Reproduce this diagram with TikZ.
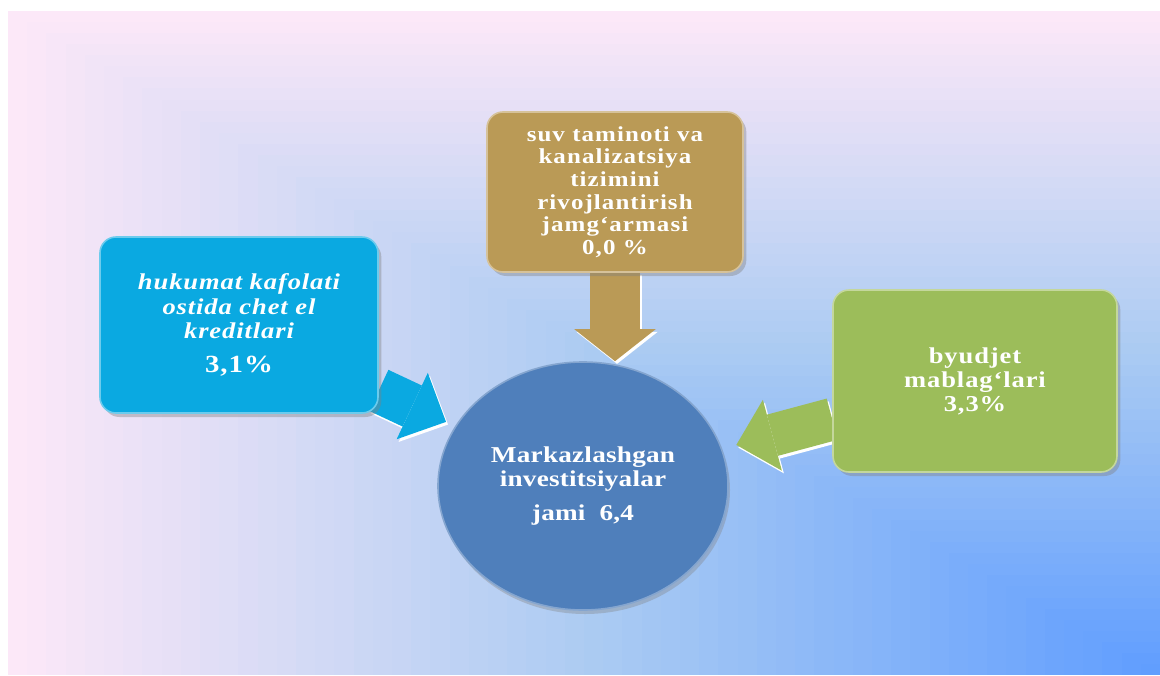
\documentclass[tikz,border=0pt]{standalone}
\usepackage{fontspec}
\newfontfamily\boxfont[FakeStretch=1.17,LetterSpace=4]{Liberation Serif}
\newfontfamily\hubfont[FakeStretch=1.2,LetterSpace=1]{Liberation Serif}
\usetikzlibrary{arrows.meta,shapes.geometric,shadows}

\definecolor{bgA}{HTML}{FCE8F8}
\definecolor{bgB}{HTML}{ABCBF2}
\definecolor{bgC}{HTML}{5E9CFF}
\definecolor{hubblue}{HTML}{4F7FBB}
\definecolor{credcyan}{HTML}{0AA9E1}
\definecolor{fundgold}{HTML}{BA9A56}
\definecolor{budgreen}{HTML}{9CBD5A}

\pgfdeclarelayer{backdrop}
\pgfdeclarelayer{links}
\pgfsetlayers{backdrop,links,main}

\tikzset{every picture/.style={line width=0.75pt},
  srcbox/.style={rounded corners=12pt, fill=#1, draw=white!40!#1, line width=1.2pt, text=white, align=center, inner sep=0pt,
    drop shadow={opacity=0.4, shadow xshift=2.5pt, shadow yshift=-3pt}},
  hubnode/.style={ellipse, fill=hubblue, draw=white!30!hubblue, line width=1.2pt, text=white, align=center, inner sep=0pt,
    minimum width=217.5pt, minimum height=186pt, drop shadow={opacity=0.35, shadow xshift=1.5pt, shadow yshift=-3pt}},
  flowarrow/.style={draw=#1, line width=34pt, -{Triangle[width=55pt,length=28pt,line width=0pt]}},
  flowedge/.style={flowarrow=white, transform canvas={xshift=1.5pt,yshift=-2pt}}
}

\begin{document}
\begin{tikzpicture}[x=0.75pt,y=0.75pt,yscale=-1,xscale=1]
	\useasboundingbox (0,0) rectangle (1160,675);

	%Shape: Background gradient from the lower right corner
	\begin{pgfonlayer}{backdrop}
	\fill[white] (0,0) rectangle (1160,675);
	\foreach \i in {0,...,29}{
		\pgfmathsetmacro{\fr}{\i/60}
		\pgfmathtruncatemacro{\mix}{\i*100/30}
		\fill[bgB!\mix!bgA] ({8+1152*\fr},{11+664*\fr}) rectangle (1160,675);
	}
	\foreach \i in {30,...,59}{
		\pgfmathsetmacro{\fr}{\i/60}
		\pgfmathtruncatemacro{\mix}{(\i-30)*100/30}
		\fill[bgC!\mix!bgB] ({8+1152*\fr},{11+664*\fr}) rectangle (1160,675);
	}
	\end{pgfonlayer}

	%Shape: Rounded Rect (top)
	\node[srcbox=fundgold, minimum width=192pt, minimum height=120pt,
		font=\boxfont\bfseries\addfontfeatures{LetterSpace=5}\fontsize{16pt}{17pt}\selectfont] (fund) at (615,192)
		{suv taminoti va\\kanalizatsiya\\tizimini\\rivojlantirish\\jamg‘armasi\\0,0 \%};
	%Shape: Rounded Rect (left)
	\node[srcbox=credcyan, minimum width=208.5pt, minimum height=132pt,
		font=\boxfont\bfseries\itshape\fontsize{17pt}{18.4pt}\selectfont] (credit) at (239,325)
		{hukumat kafolati\\ostida chet el\\kreditlari\\[7pt]{\upshape\fontsize{18.5pt}{20pt}\selectfont 3,1\%}};
	%Shape: Rounded Rect (right)
	\node[srcbox=budgreen, minimum width=213pt, minimum height=136.5pt,
		font=\boxfont\bfseries\fontsize{17pt}{18pt}\selectfont] (budget) at (975,381)
		{byudjet\\mablag‘lari\\3,3\%};
	%Shape: Ellipse (centre)
	\node[hubnode, font=\hubfont\bfseries\fontsize{17pt}{18pt}\selectfont] (total) at (583,486)
		{Markazlashgan\\investitsiyalar\\[8pt]jami\ \ 6,4};

	%Block arrows
	\begin{pgfonlayer}{links}
	\draw[flowedge, line width=38pt, -{Triangle[width=61pt,length=24pt,line width=0pt]}] (fund.south) -- (fund.south |- total.north);
	\draw[flowarrow=fundgold, line width=38pt, -{Triangle[width=61pt,length=24pt,line width=0pt]}] (fund.south) -- (fund.south |- total.north);
	\draw[flowedge, shorten >=7.5pt] (credit) -- (total);
	\draw[flowarrow=credcyan, shorten >=7.5pt] (credit) -- (total);
	\draw[flowedge, line width=32pt, shorten >=11pt] (budget) -- (total);
	\draw[flowarrow=budgreen, line width=32pt, shorten >=11pt] (budget) -- (total);
	\end{pgfonlayer}

\end{tikzpicture}
\end{document}
